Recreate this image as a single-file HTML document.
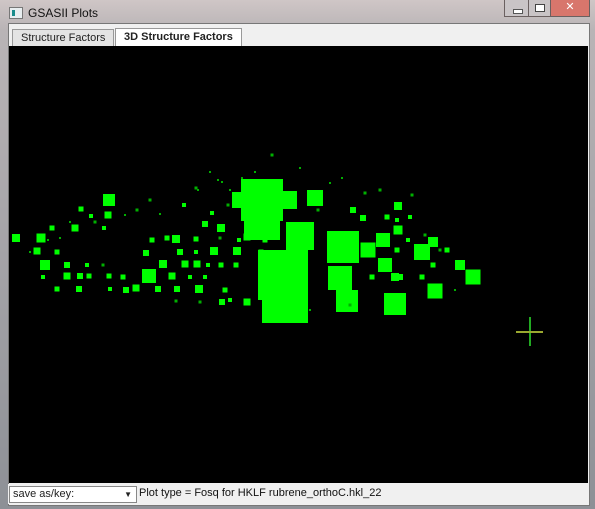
<!DOCTYPE html>
<html><head><meta charset="utf-8"><style>
body{margin:0;width:595px;height:509px;overflow:hidden;background:#6b6f74;font-family:"Liberation Sans",sans-serif;}
#win{position:absolute;left:0;top:0;width:595px;height:509px;background:linear-gradient(#cfc6c6,#b9b4b6 30px,#8d9096);}
#title{position:absolute;left:28px;top:6px;font-size:12px;color:#111;}
#icon{position:absolute;left:9px;top:7px;width:12px;height:10px;background:#e8eef0;border:1px solid #777;}
#icon:after{content:"";position:absolute;left:2px;top:2px;width:3px;height:6px;background:#1a8c8c;}
.wb{position:absolute;top:0;height:16px;border:1px solid #6a6060;border-top:none;}
#client{position:absolute;left:8px;top:23px;width:580px;height:481px;background:#f0f0f0;border:1px solid #777;}
.tab{position:absolute;top:5px;height:17px;font-size:11px;line-height:17px;padding:0 8px;border:1px solid #999;border-bottom:none;background:#e4e4e4;color:#222;}
#plot{position:absolute;left:9px;top:46px;width:579px;height:437px;background:#000;}
#bar{position:absolute;left:8px;top:484px;width:581px;height:20px;background:#f0f0f0;}
#sel{position:absolute;left:1px;top:2px;width:123px;height:15px;border:1px solid #888;background:#fff;font-size:11px;line-height:15px;padding-left:3px;color:#222;}
#status{position:absolute;left:131px;top:3px;font-size:11px;color:#111;}
</style></head><body>
<div id="win">
<div id="icon"></div>
<div id="title">GSASII Plots</div>
<div class="wb" style="left:504px;width:24px;background:#c9c4c6"><div style="position:absolute;left:8px;top:9px;width:8px;height:3px;background:#fff;border:1px solid #555"></div></div>
<div class="wb" style="left:528px;width:22px;background:#c9c4c6"><div style="position:absolute;left:6px;top:4px;width:8px;height:6px;border:1px solid #444;background:#fff"></div></div>
<div class="wb" style="left:550px;width:38px;background:#d8766c;color:#fff;font-size:11px;text-align:center;line-height:15px">✕</div>
<div id="client">
<div class="tab" style="left:3px;">Structure Factors</div>
<div class="tab" style="left:106px;top:4px;height:18px;background:#fff;font-weight:bold;">3D Structure Factors</div>
</div>
<svg id="plot" width="579" height="437"></svg>
<div id="bar">
<div id="sel">save as/key:<span style="position:absolute;right:4px;top:0;font-size:8px">▼</span></div>
<div id="status">Plot type = Fosq for HKLF rubrene_orthoC.hkl_22</div>
</div>
</div>
<script>
const xs=[262,262,240,288,315,300,283,285,343,340,347,368,383,385,395,422,435,460,473,433,398,398,353,372,395,422,447,363,387,397,410,408,397,400,433,365,
16,41,109,108,81,91,52,75,104,37,57,45,67,87,103,43,67,80,89,109,123,149,172,190,205,57,79,110,126,136,158,177,199,225,222,230,247,176,200,163,185,197,208,221,236,146,180,196,214,237,261,152,167,176,196,220,239,247,265,221,205,184,212,137,272,
210,218,196,230,150,160,125,95,70,60,30,48,228,330,342,318,300,255,242,380,412,425,440,455,350,310,198,222];
const ys=[200,222,200,200,198,236,275,300,247,278,301,250,240,265,304,252,291,265,277,242,230,206,210,277,277,277,250,218,217,220,217,240,250,277,265,193,
238,238,200,215,209,216,228,228,228,251,252,265,265,265,265,277,276,276,276,276,277,276,276,277,277,289,289,289,290,288,289,289,289,290,302,300,302,301,302,264,264,264,265,265,265,253,252,252,251,251,252,240,238,239,239,238,240,237,240,228,224,205,213,210,155,
172,180,188,190,200,214,215,222,222,238,252,240,205,183,178,210,168,172,178,190,195,235,250,290,305,310,190,182];
const sizes=[42,36,16,18,16,28,50,46,32,24,22,15,14,14,22,16,15,10,15,10,9,8,6,5,8,5,5,6,5,4,4,4,5,6,5,3,
8,9,12,7,5,4,5,7,4,7,5,10,6,4,3,4,7,6,5,5,5,14,7,4,4,5,6,4,6,7,6,6,8,5,6,4,7,3,3,8,7,7,4,5,5,6,6,4,8,8,5,5,5,8,5,3,4,7,5,8,6,4,4,3,3,
2,2,3,2,3,2,2,3,2,2,2,2,3,2,2,3,2,2,2,3,3,3,3,2,3,2,2,2];
const svg=document.getElementById('plot');
const NS='http://www.w3.org/2000/svg';
const sx=x=>x-9, sy=y=>y-46, ss=s=>s;
for(let i=0;i<xs.length;i++){
  const r=document.createElementNS(NS,'rect');
  const s=ss(sizes[i]);
  r.setAttribute('x',sx(xs[i])-s/2);r.setAttribute('y',sy(ys[i])-s/2);
  r.setAttribute('width',s);r.setAttribute('height',s);r.setAttribute('fill',s<4?'#00b000':'#00ff00');
  
  
  svg.appendChild(r);
}
const v=document.createElementNS(NS,'line');
v.setAttribute('x1',sx(530));v.setAttribute('x2',sx(530));v.setAttribute('y1',sy(317));v.setAttribute('y2',sy(346));
v.setAttribute('stroke','#22aa22');v.setAttribute('stroke-width','2');


svg.appendChild(v);
const h=document.createElementNS(NS,'line');
h.setAttribute('x1',sx(516));h.setAttribute('x2',sx(543));h.setAttribute('y1',sy(332));h.setAttribute('y2',sy(332));
h.setAttribute('stroke','#9aa830');h.setAttribute('stroke-width','2');


svg.appendChild(h);
</script>
</body></html>
